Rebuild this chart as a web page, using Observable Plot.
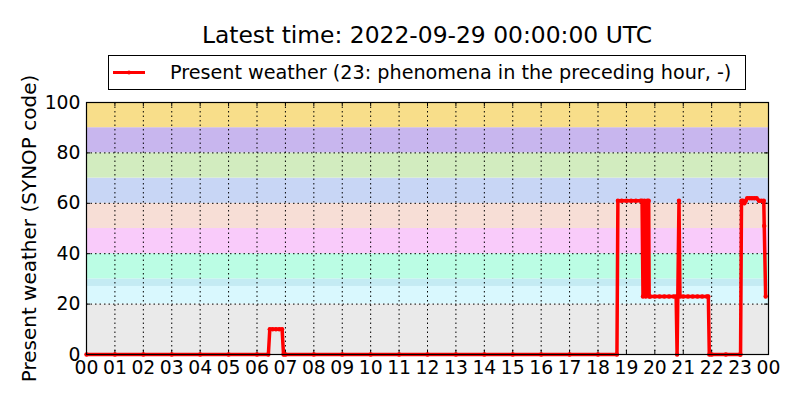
<!DOCTYPE html>
<html>
<head>
<meta charset="utf-8">
<script src="https://cdn.jsdelivr.net/npm/d3@7"></script>
<script src="https://cdn.jsdelivr.net/npm/@observablehq/plot@0.6"></script>
<style>
  html, body { margin: 0; padding: 0; background: white; }
  #wrap { position: relative; width: 800px; height: 400px; font-family: "DejaVu Sans", sans-serif; }
  #title { position: absolute; left: 86px; width: 682px; top: 20px; text-align: center; font-size: 23.4px; line-height: 30px; color: black; }
  #legend { position: absolute; left: 108px; top: 55px; width: 636px; height: 33px; border: 1px solid black; background: white; }
  #legend svg { position: absolute; left: 0; top: 0; }
  #legend span { position: absolute; left: 61px; top: 4px; font-size: 19.2px; line-height: 25px; color: black; white-space: nowrap; }
</style>
</head>
<body>
<div id="wrap">
  <div id="chart"></div>
  <div id="title">Latest time: 2022-09-29 00:00:00 UTC</div>
  <div id="legend">
    <svg width="50" height="33"><line x1="4" x2="36" y1="16.5" y2="16.5" stroke="red" stroke-width="3"/><circle cx="20" cy="16.5" r="2" fill="red"/></svg>
    <span>Present weather (23: phenomena in the preceding hour, -)</span>
  </div>
</div>
<script>
// ---- data (times UTC, SYNOP present weather codes) ----
const times = [
  "00:00","01:00","02:00","03:00","04:00","05:00","06:00","06:24",
  "06:27","06:33","06:40","06:47","06:53","06:56",
  "07:00","08:00","09:00","10:00","11:00","12:00","13:00","14:00","15:00","16:00","17:00","18:00","18:40",
  "18:42","18:50","19:00","19:10","19:20","19:30","19:33",
  "19:35","19:38","19:41","19:44","19:47","19:48",
  "19:50","20:00","20:10","20:20","20:30","20:40","20:45",
  "20:47","20:51","20:53",
  "21:00","21:10","21:20","21:30","21:40","21:50","21:53",
  "21:55","22:00","22:30","23:00","23:01",
  "23:03","23:06","23:09","23:12","23:15","23:20","23:25","23:30","23:35","23:40","23:45","23:50",
  "23:51","23:54"
];
const values = [
  0,0,0,0,0,0,0,0,
  10,10,10,10,10,0,
  0,0,0,0,0,0,0,0,0,0,0,0,0,
  61,61,61,61,61,61,61,
  23,61,23,61,61,23,
  23,23,23,23,23,23,23,
  0,61,23,
  23,23,23,23,23,23,23,
  0,0,0,0,0,
  61,61,60,61,62,62,62,62,62,61,61,61,
  51,23
];
const xTicks = [0,1,2,3,4,5,6,7,8,9,10,11,12,13,14,15,16,17,18,19,20,21,22,23,24];
const xTickLabels = ["00","01","02","03","04","05","06","07","08","09","10","11","12","13","14","15","16","17","18","19","20","21","22","23","00"];
const yTicks = [0,20,40,60,80,100];
// background bands of SYNOP code groups
const bandLow  = [0, 20, 27, 30, 40, 50, 60, 70, 80, 90];
const bandHigh = [20, 27, 30, 40, 50, 60, 70, 80, 90, 100];
const bandColors = ["#eaeaea","#d9f8fe","#c4ebf3","#bbfde4","#f9cbfa","#f7ded6","#c8d6f5","#d2ecbf","#c8b6ee","#f8de8a"];

const toHours = s => { const [h, m] = s.split(":").map(Number); return h + m / 60; };
const series = times.map((t, i) => ({x: toHours(t), y: values[i]}));
const bands = bandLow.map((lo, i) => ({lo, hi: bandHigh[i], color: bandColors[i]}));

const W = 800, H = 400, mt = 102, mb = 46, ml = 86, mr = 32;
const innerW = W - ml - mr, innerH = H - mt - mb;
const tickLen = 4;

const chart = Plot.plot({
  width: W, height: H,
  marginTop: mt, marginBottom: mb, marginLeft: ml, marginRight: mr,
  style: {fontFamily: "DejaVu Sans", fontSize: "18px", background: "white", color: "black"},
  x: {domain: [0, 24]},
  y: {domain: [0, 100]},
  color: {type: "identity"},
  marks: [
    Plot.rect(bands, {x1: 0, x2: 24, y1: "lo", y2: "hi", fill: "color"}),
    Plot.gridX(xTicks, {stroke: "black", strokeOpacity: 1, strokeWidth: 1, strokeDasharray: "1.5,3"}),
    Plot.gridY(yTicks, {stroke: "black", strokeOpacity: 1, strokeWidth: 1, strokeDasharray: "1.5,3"}),
    Plot.tickX(xTicks, {x: d => d, stroke: "black", insetTop: innerH - tickLen}),
    Plot.tickX(xTicks, {x: d => d, stroke: "black", insetBottom: innerH - tickLen}),
    Plot.tickY(yTicks, {y: d => d, stroke: "black", insetRight: innerW - tickLen}),
    Plot.tickY(yTicks, {y: d => d, stroke: "black", insetLeft: innerW - tickLen}),
    Plot.line(series, {x: "x", y: "y", stroke: "red", strokeWidth: 3.5, strokeLinejoin: "round"}),
    Plot.dot(series, {x: "x", y: "y", r: 2.2, fill: "red", stroke: "none"}),
    Plot.frame({stroke: "black", strokeWidth: 1.2}),
    Plot.axisX(xTicks, {tickSize: 0, tickPadding: 6, label: null, fontSize: 18.8,
      tickFormat: d => xTickLabels[xTicks.indexOf(d)]}),
    Plot.axisY(yTicks, {tickSize: 0, tickPadding: 6, label: null, fontSize: 18.8}),
    Plot.text(["Present weather (SYNOP code)"], {frameAnchor: "left", textAnchor: "middle", rotate: -90, dx: -57, fontSize: 20, fill: "black"})
  ]
});
document.getElementById("chart").appendChild(chart);
</script>
</body>
</html>
